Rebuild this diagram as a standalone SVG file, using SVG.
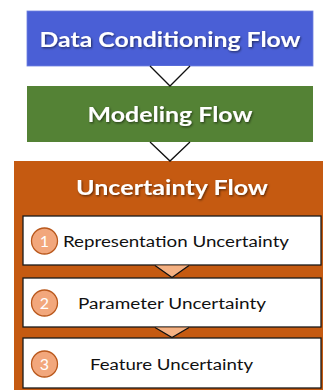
<svg xmlns="http://www.w3.org/2000/svg" width="324" height="390" viewBox="0 0 324 390">
  <defs>
    <filter id="shadow" x="-10%" y="-30%" width="120%" height="160%">
      <feDropShadow dx="1" dy="1.2" stdDeviation="0.8" flood-color="#000" flood-opacity="0.55"/>
    </filter>
  </defs>
  <style>
    .title { font-family: Lato, "Open Sans", "Liberation Sans", sans-serif; font-weight: bold; fill: #ffffff; text-anchor: middle; }
    .body { font-family: Lato, "Open Sans", "Liberation Sans", sans-serif; font-size: 15.5px; fill: #111111; text-anchor: middle; }
    .num { font-family: Lato, "Open Sans", "Liberation Sans", sans-serif; font-size: 16px; fill: #ffffff; text-anchor: middle; }
    .step { fill: #ffffff; stroke: #1a1a1a; stroke-width: 1.3; }
    .badge { fill: #f2a77c; stroke: #b9581c; stroke-width: 1.3; }
    .conn { stroke: #111111; stroke-width: 1.3; stroke-linejoin: miter; }
  </style>
  <rect width="324" height="390" fill="#ffffff"/>

  <g id="data-conditioning">
    <rect x="27" y="11" width="286" height="55" fill="#4a5fd6" stroke="#6f80e0" stroke-width="0.8"/>
    <text class="title" x="170" y="47" font-size="21.5" textLength="261" lengthAdjust="spacingAndGlyphs" filter="url(#shadow)">Data Conditioning Flow</text>
  </g>

  <g id="modeling">
    <rect x="27" y="86" width="286" height="56" fill="#548235"/>
    <text class="title" x="170" y="122" font-size="21.5" textLength="165" lengthAdjust="spacingAndGlyphs" filter="url(#shadow)">Modeling Flow</text>
  </g>

  <g id="uncertainty">
    <rect x="14" y="161" width="309" height="229" fill="#c55a11"/>
    <text class="title" x="172" y="195" font-size="20.5" textLength="192" lengthAdjust="spacingAndGlyphs" filter="url(#shadow)">Uncertainty Flow</text>
  </g>

  <g id="representation">
    <rect class="step" x="23" y="216" width="298" height="49"/>
    <circle class="badge" cx="44.5" cy="241" r="13"/>
    <text class="num" x="44.5" y="247">1</text>
    <text class="body" x="176" y="247" textLength="226" lengthAdjust="spacingAndGlyphs">Representation Uncertainty</text>
  </g>

  <g id="parameter">
    <rect class="step" x="23" y="278" width="298" height="49"/>
    <circle class="badge" cx="44.5" cy="303" r="13"/>
    <text class="num" x="44.5" y="309">2</text>
    <text class="body" x="172" y="308.5" textLength="188" lengthAdjust="spacingAndGlyphs">Parameter Uncertainty</text>
  </g>

  <g id="feature">
    <rect class="step" x="23" y="338" width="298" height="50"/>
    <circle class="badge" cx="44.5" cy="364" r="13"/>
    <text class="num" x="44.5" y="370">3</text>
    <text class="body" x="171.5" y="370" textLength="163" lengthAdjust="spacingAndGlyphs">Feature Uncertainty</text>
  </g>

  <g id="connectors">
    <path class="conn" d="M150,66 L170,86 L190,66" fill="#ffffff"/>
    <path class="conn" d="M150,142 L170,161 L190,142" fill="#ffffff"/>
    <path class="conn" d="M155,265.5 L172,277.5 L189,265.5" fill="#f4b183"/>
    <path class="conn" d="M155,327.5 L172,337.5 L189,327.5" fill="#f4b183"/>
  </g>
</svg>
